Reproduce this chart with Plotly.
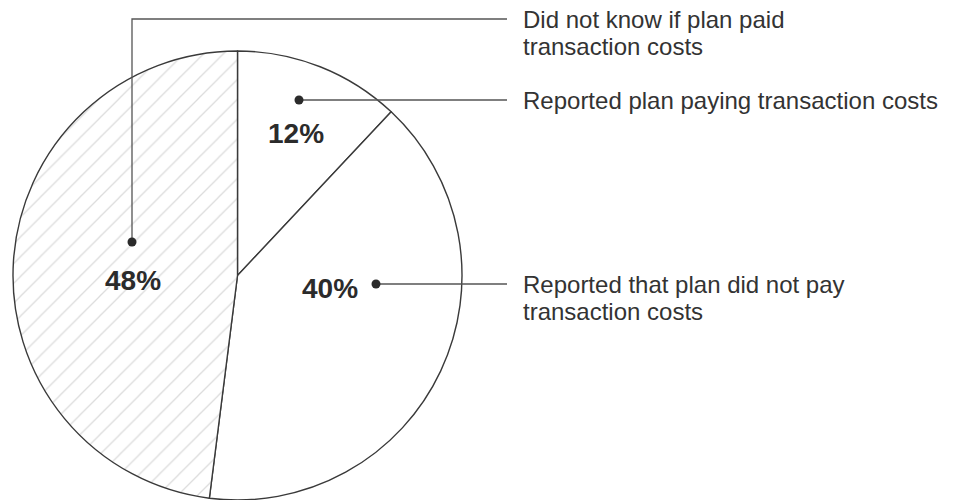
import plotly.graph_objects as go

# ---- data ----
categories = [
    "Reported plan paying transaction costs",
    "Reported that plan did not pay transaction costs",
    "Did not know if plan paid transaction costs",
]
shares = [12, 40, 48]
pct_labels = ["12%", "40%", "48%"]
callout_lines = [
    ["Reported plan paying transaction costs"],
    ["Reported that plan did not pay", "transaction costs"],
    ["Did not know if plan paid", "transaction costs"],
]

W, H = 954, 500
cx, cy, r = 237.5, 275.5, 224.5

fig = go.Figure()
fig.add_trace(go.Pie(
    labels=categories,
    values=shares,
    sort=False,
    direction="clockwise",
    rotation=0,
    textinfo="none",
    hoverinfo="label+percent",
    showlegend=False,
    domain=dict(
        x=[(cx - r) / W, (cx + r) / W],
        y=[max(0, (H - (cy + r)) / H), (H - (cy - r)) / H],
    ),
    marker=dict(
        colors=["white", "white", "white"],
        line=dict(color="#3a3a3a", width=1.4),
        pattern=dict(
            shape=["", "", "/"],
            fgcolor="#dcdcdc",
            bgcolor="white",
            size=14,
            solidity=0.09,
        ),
    ),
))

# layout positions (pixels) for labels and callouts
pct_pos = [(296, 133), (330, 288), (133, 280)]
dot_pos = [(299, 100), (376, 284), (132, 242)]
text_x = 521
line_end_x = 507
top_line_y = 19
line_gap = 27
text_y0 = [100, 284, 19]

dark = "#2b2b2b"
lc = "#555555"
shapes = []
shapes.append(dict(type="line", x0=dot_pos[0][0], y0=dot_pos[0][1], x1=line_end_x, y1=dot_pos[0][1],
                   xref="x", yref="y", line=dict(color=lc, width=1.3)))
shapes.append(dict(type="line", x0=dot_pos[1][0], y0=dot_pos[1][1], x1=line_end_x, y1=dot_pos[1][1],
                   xref="x", yref="y", line=dict(color=lc, width=1.3)))
shapes.append(dict(type="path",
                   path=f"M {dot_pos[2][0]},{dot_pos[2][1]} L {dot_pos[2][0]},{top_line_y} L {line_end_x},{top_line_y}",
                   xref="x", yref="y", line=dict(color=lc, width=1.3)))
for (x, y) in dot_pos:
    shapes.append(dict(type="circle", x0=x - 4.5, y0=y - 4.5, x1=x + 4.5, y1=y + 4.5,
                       xref="x", yref="y", fillcolor=dark, line=dict(color=dark, width=0)))

font_fam = "Liberation Sans, Arial, sans-serif"
annotations = []
for (x, y), t in zip(pct_pos, pct_labels):
    annotations.append(dict(x=x, y=y, xref="x", yref="y", text=f"<b>{t}</b>", showarrow=False,
                            font=dict(family=font_fam, size=28, color=dark),
                            xanchor="center", yanchor="middle"))
for lines, y0 in zip(callout_lines, text_y0):
    for i, t in enumerate(lines):
        annotations.append(dict(x=text_x, y=y0 + i * line_gap, xref="x", yref="y", text=t,
                                showarrow=False, align="left",
                                font=dict(family=font_fam, size=24, color="#333"),
                                xanchor="left", yanchor="middle"))

fig.update_layout(
    width=W, height=H,
    margin=dict(l=0, r=0, t=0, b=0),
    paper_bgcolor="white", plot_bgcolor="rgba(0,0,0,0)",
    xaxis=dict(range=[0, W], visible=False, fixedrange=True),
    yaxis=dict(range=[H, 0], visible=False, fixedrange=True),
    shapes=shapes,
    annotations=annotations,
)

fig.write_html(
    "out.html",
    config={"displayModeBar": False},
    post_script="document.body.style.margin='0';document.body.style.overflow='hidden';",
)
